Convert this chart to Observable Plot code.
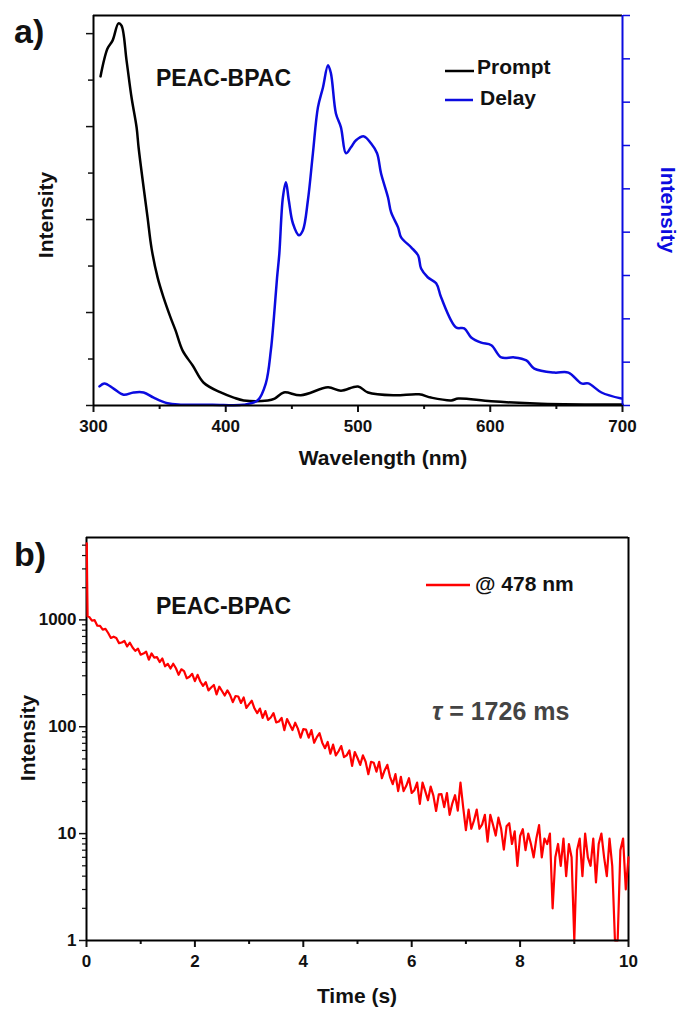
<!DOCTYPE html>
<html><head><meta charset="utf-8">
<script src="https://cdn.jsdelivr.net/npm/d3@7"></script>
<script src="https://cdn.jsdelivr.net/npm/@observablehq/plot@0.6"></script>
<style>body{margin:0;background:#fff} svg{display:block}</style>
</head><body><div id="chart"></div>
<script>
const FONT = "Liberation Sans, Arial, sans-serif";
const BLUE = "#0b0be0";
const RED = "#ff0000";

// ---- panel a) data ----
const promptWl = [305.3,310.6,314.4,318.9,321.2,325,328.8,332.6,334.1,337.9,340.9,343.9,348.5,353,358.3,362.1,367.4,375,383.3,396.2,406,413.6,431.8,437,443.9,456.8,477.3,487.1,500,507.6,527.3,546.2,555.3,570.5,575.8,600.8,638.6,700];
const promptI  = [7.08,7.68,7.85,8.22,8.17,7.42,6.62,5.98,5.55,4.69,4.04,3.38,2.75,2.32,1.89,1.61,1.18,0.86,0.49,0.28,0.17,0.11,0.11,0.15,0.28,0.22,0.39,0.32,0.41,0.28,0.22,0.24,0.17,0.11,0.15,0.09,0.04,0.02];

const delayWl = [304.5,308.3,315.2,322.7,330.3,337.9,345.5,356,366,390,413.6,424.2,430.3,434.1,436.4,438.8,440.5,443.2,445.5,447.7,450.8,455.3,458.3,462.1,465.9,469.7,473.5,477.3,479.5,483.3,487.1,490.9,494.7,498.5,504.5,509.8,514.4,517.4,522.7,525,530.3,532.6,540.2,545.5,547.7,552.7,559.1,562.9,574.2,580.3,585.6,593.2,600.8,608.3,618.2,627.3,633.3,648.5,659.1,668.9,674.2,684.1,699.2];
const delayI  = [0.44,0.51,0.39,0.25,0.30,0.30,0.18,0.05,0.02,0.02,0.02,0.12,0.51,1.27,2.03,2.95,3.5,4.80,5.15,4.73,4.20,3.93,4.04,4.73,5.82,6.88,7.34,7.85,7.67,6.74,6.42,5.82,5.96,6.12,6.21,6.05,5.82,5.36,4.80,4.46,4.11,3.88,3.65,3.46,3.16,2.96,2.82,2.49,1.80,1.78,1.57,1.45,1.39,1.11,1.11,1.04,0.85,0.76,0.76,0.51,0.51,0.30,0.16];

const leftMax = 8.39, rightMax = 9;
const wlTicks = [300,400,500,600,700];
const wlMinor = [350,450,550,650];
const leftMajor = [0,2,4,6,8];
const leftMinor = [1,3,5,7];
const rightTicks = [0,1,2,3,4,5,6,7,8,9];

// ---- panel b) data ----
const spikeT = [0.005, 0.012, 0.02];
const spikeV = [5200, 2300, 1080];
const decayStep = 0.05;
const decayV = [
 1066,985,993,883,879, 810,823,754,678,696, 677,606,614,635,564, 612,551,513,537,472,
 484,504,424,485,444, 448,403,435,368,388, 351,389,353,306,345, 332,284,294,313,267,
 306,265,241,262,219, 233,246,201,237,216, 196,219,198,170,194, 192,167,188,150,163,
 175,148,134,148,121, 140,116,122,134,110, 112,121,93,118,105, 93,109,96,79,95,
 94,79,93,71,80, 87,71,63,72,56, 68,54,59,66,52, 54,60,43,58,51,
 44,54,47,36,47, 46,38,47,33,39, 44,34,29,36,25, 34,25,28,33,24,
 25.5,30,19,30,25, 20.5,27.5,22.7,16.3,23.3, 23.4,17.7,24,15,19.2, 22.9,16.4,30,17.6,10.8,
 16.8,11.1,13.3,16.8,11.1, 12.2,15,8.4,15,12.1, 9.6,14.1,11.1,7.1,11.7, 12.5,8,10.5,5,9.5,
 11,7,10,8,6, 9,12,6,9,8, 10,2,6,8,5, 9,4,8,6,1,
 7,9,4,10,6, 5,9,3.5,8,10, 6,4,9,5,1, 1,7,9,3,6
];
const timeTicks = [0,2,4,6,8,10];
const timeMinor = [1,3,5,7,9];
const logTicks = [1,10,100,1000];
const logMinor = [2,3,4,5,6,7,8,9,20,30,40,50,60,70,80,90,200,300,400,500,600,700,800,900,2000,3000,4000,5000];
const yTop = 5900;

const prompt = promptWl.map((w,i)=>({w, v: promptI[i]}));
const delay = delayWl.map((w,i)=>({w, v: delayI[i]}));
const k = leftMax / rightMax;

const styleBase = {fontFamily: FONT, fontSize: "17px", fontWeight: "bold", color: "#111", background: "#fff", overflow: "visible"};

const topPlot = Plot.plot({
  width: 680, height: 480,
  marginLeft: 93, marginRight: 58, marginTop: 15, marginBottom: 75,
  style: styleBase,
  x: {domain: [300, 700], label: null},
  y: {domain: [0, leftMax], label: null},
  marks: [
    Plot.ruleY([leftMax], {stroke: "#000", strokeWidth: 2}),
    Plot.ruleX([300], {stroke: "#000", strokeWidth: 2}),
    Plot.axisX({ticks: wlTicks, tickSize: 7, tickPadding: 7, strokeWidth: 2, label: null, tickFormat: d => d}),
    Plot.axisX({ticks: wlMinor, tickSize: 4, strokeWidth: 2, label: null, tickFormat: () => ""}),
    Plot.axisY({ticks: leftMajor, tickSize: 7, strokeWidth: 1.5, label: null, tickFormat: () => ""}),
    Plot.axisY({ticks: leftMinor, tickSize: 5, strokeWidth: 1.5, label: null, tickFormat: () => ""}),
    Plot.axisY({anchor: "right", ticks: rightTicks.map(t => t * k), tickSize: 7, strokeWidth: 1.5, stroke: BLUE, label: null, tickFormat: () => ""}),
    Plot.line(prompt, {x: "w", y: "v", stroke: "#000", strokeWidth: 2.5, curve: "catmull-rom"}),
    Plot.line(delay, {x: "w", y: d => d.v * k, stroke: BLUE, strokeWidth: 2.5, curve: "catmull-rom"}),
    Plot.ruleX([700], {stroke: BLUE, strokeWidth: 2}),
    Plot.ruleY([0], {stroke: "#000", strokeWidth: 2})
  ]
});

const decay = spikeT.map((t,i)=>({t, v: spikeV[i]})).concat(decayV.map((v,i)=>({t: +(decayStep*(i+1)).toFixed(2), v})));

const botPlot = Plot.plot({
  width: 680, height: 530,
  marginLeft: 86, marginRight: 52, marginTop: 57, marginBottom: 70,
  style: styleBase,
  x: {domain: [0, 10], label: null},
  y: {type: "log", domain: [1, yTop], label: null},
  marks: [
    Plot.ruleY([yTop], {stroke: "#000", strokeWidth: 2}),
    Plot.ruleX([10], {stroke: "#000", strokeWidth: 2}),
    Plot.ruleX([0], {stroke: "#000", strokeWidth: 2}),
    Plot.axisX({ticks: timeTicks, tickSize: 7, tickPadding: 7, strokeWidth: 2, label: null, tickFormat: d => d}),
    Plot.axisX({ticks: timeMinor, tickSize: 4, strokeWidth: 2, label: null, tickFormat: () => ""}),
    Plot.axisY({ticks: logTicks, tickSize: 7, tickPadding: 3, strokeWidth: 1.5, label: null, tickFormat: d => String(d)}),
    Plot.axisY({ticks: logMinor, tickSize: 4, strokeWidth: 1.2, label: null, tickFormat: () => ""}),
    Plot.line(decay, {x: "t", y: "v", stroke: RED, strokeWidth: 2.2}),
    Plot.ruleY([1], {stroke: "#000", strokeWidth: 2})
  ]
});

const chart = document.getElementById("chart");
chart.appendChild(topPlot);
chart.appendChild(botPlot);

function txt(svg, x, y, s, o = {}) {
  const t = d3.select(svg).append("text")
    .attr("x", x).attr("y", y)
    .attr("font-family", FONT)
    .attr("font-weight", o.weight || "bold")
    .attr("font-size", o.size || 16)
    .attr("fill", o.fill || "#111")
    .attr("text-anchor", o.anchor || "start")
    .text(s);
  if (o.transform) t.attr("transform", o.transform).attr("x", 0).attr("y", 0);
  return t;
}
function swatch(svg, x1, x2, y, color) {
  d3.select(svg).append("line").attr("x1", x1).attr("x2", x2).attr("y1", y).attr("y2", y)
    .attr("stroke", color).attr("stroke-width", 2.5);
}

// panel a annotations
txt(topPlot, 14, 43, "a)", {size: 34});
txt(topPlot, 156, 86, "PEAC-BPAC", {size: 23});
swatch(topPlot, 445, 474, 71, "#000");
txt(topPlot, 477, 74, "Prompt", {size: 21});
swatch(topPlot, 445, 473, 100, BLUE);
txt(topPlot, 480, 105, "Delay", {size: 21});
txt(topPlot, 0, 0, "Intensity", {size: 21, anchor: "middle", transform: "translate(53,215) rotate(-90)"});
txt(topPlot, 0, 0, "Intensity", {size: 21, anchor: "middle", fill: BLUE, transform: "translate(661,210) rotate(90)"});
txt(topPlot, 383, 465, "Wavelength (nm)", {size: 21, anchor: "middle"});

// panel b annotations
txt(botPlot, 14, 86, "b)", {size: 34});
txt(botPlot, 156, 134, "PEAC-BPAC", {size: 23});
swatch(botPlot, 426, 470, 105, RED);
txt(botPlot, 475, 111, "@ 478 nm", {size: 21});
const tau = txt(botPlot, 432, 240, "", {size: 25, fill: "#444"});
tau.append("tspan").attr("font-style", "italic").text("τ");
tau.append("tspan").text(" = 1726 ms");
txt(botPlot, 0, 0, "Intensity", {size: 21, anchor: "middle", transform: "translate(35,258) rotate(-90)"});
txt(botPlot, 357, 523, "Time (s)", {size: 21, anchor: "middle"});
</script>
</body></html>
